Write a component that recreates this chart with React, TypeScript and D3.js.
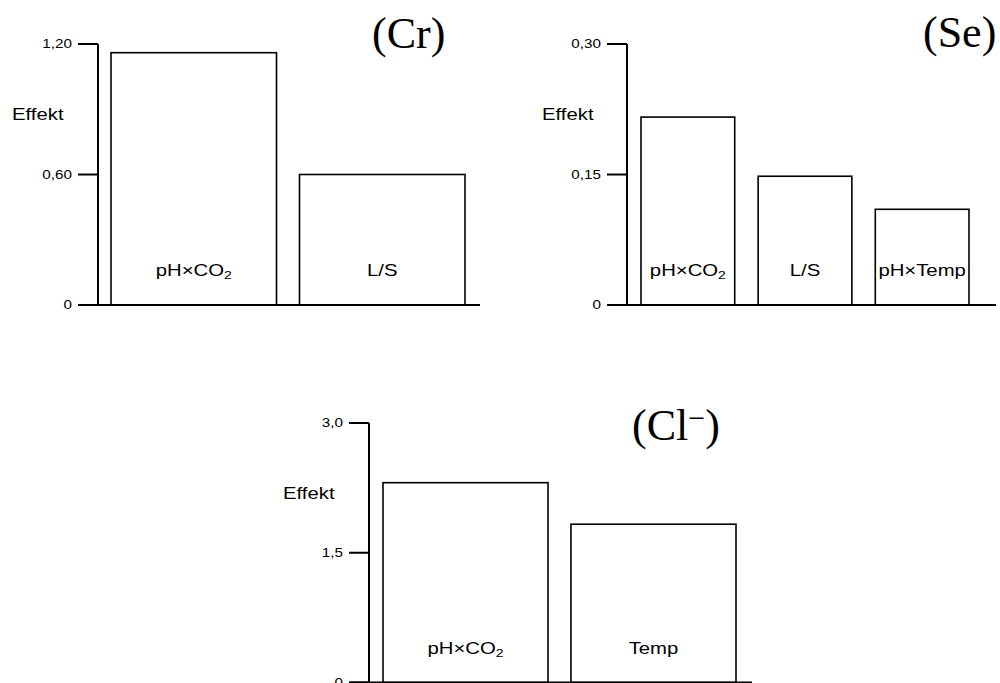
import * as d3 from 'd3';

// chart data
const crLabels = ['pH×CO2', 'L/S'];
const crValues = [1.16, 0.6];
const crTicks = [0, 0.6, 1.2];
const crTickLabels = ['0', '0,60', '1,20'];

const seLabels = ['pH×CO2', 'L/S', 'pH×Temp'];
const seValues = [0.216, 0.148, 0.11];
const seTicks = [0, 0.15, 0.3];
const seTickLabels = ['0', '0,15', '0,30'];

const clLabels = ['pH×CO2', 'Temp'];
const clValues = [2.31, 1.83];
const clTicks = [0, 1.5, 3.0];
const clTickLabels = ['0', '1,5', '3,0'];

const W = 1000;
const H = 683;
const SANS = '"Liberation Sans", Arial, sans-serif';
const SERIF = '"Liberation Serif", "Times New Roman", serif';
const STRETCH = 1.27; // the source text is a bit wide

const BarLabel = ({ x, y, text }) => {
  // render CO2 with a real subscript
  const m = text.match(/^(.*CO)2$/);
  return (
    <text transform={`translate(${x},${y}) scale(${STRETCH},1)`} textAnchor="middle"
      fontFamily={SANS} fontSize={16}>
      {m ? (
        <>
          {m[1]}
          <tspan fontSize={11} dy={3}>2</tspan>
        </>
      ) : text}
    </text>
  );
};

const Panel = ({ labels, values, ticks, tickLabels, axisX, yTop, yZero, barX0, barX1, pad, lineEnd, effektX, effektY }) => {
  const max = ticks[ticks.length - 1];
  const y = d3.scaleLinear().domain([0, max]).range([yZero, yTop]);
  const x = d3.scaleBand().domain(labels).range([barX0, barX1]).paddingInner(pad);

  return (
    <g>
      {labels.map((l, i) => (
        <g key={l}>
          <rect x={x(l)} y={y(values[i])} width={x.bandwidth()} height={yZero - y(values[i])}
            fill="#fff" stroke="#000" strokeWidth={1.6} />
          <BarLabel x={x(l) + x.bandwidth() / 2} y={yZero - 29} text={l} />
        </g>
      ))}
      <line x1={axisX} x2={axisX} y1={yTop} y2={yZero} stroke="#000" strokeWidth={2} />
      <line x1={axisX - 20} x2={lineEnd} y1={yZero} y2={yZero} stroke="#000" strokeWidth={2} />
      {ticks.map((t, i) => (
        <g key={t}>
          <line x1={axisX - 20} x2={axisX} y1={y(t)} y2={y(t)} stroke="#000" strokeWidth={2} />
          <text transform={`translate(${axisX - 26},${y(t) + 4}) scale(${STRETCH},1)`}
            textAnchor="end" fontFamily={SANS} fontSize={12}>{tickLabels[i]}</text>
        </g>
      ))}
      <text transform={`translate(${effektX},${effektY}) scale(${STRETCH},1)`}
        fontFamily={SANS} fontSize={16}>Effekt</text>
    </g>
  );
};

export default function App() {
  return (
    <svg width={W} height={H} style={{ position: 'absolute', left: 0, top: 0, background: '#fff' }}>
      <Panel labels={crLabels} values={crValues} ticks={crTicks} tickLabels={crTickLabels}
        axisX={98} yTop={44} yZero={305} barX0={111} barX1={465} pad={0.122} lineEnd={480}
        effektX={12} effektY={120} />
      <Panel labels={seLabels} values={seValues} ticks={seTicks} tickLabels={seTickLabels}
        axisX={627} yTop={44} yZero={305} barX0={641} barX1={969} pad={0.2} lineEnd={996}
        effektX={542} effektY={120} />
      <Panel labels={clLabels} values={clValues} ticks={clTicks} tickLabels={clTickLabels}
        axisX={369} yTop={423} yZero={682.5} barX0={383} barX1={736} pad={0.122} lineEnd={752}
        effektX={283} effektY={499} />

      <text x={372} y={48} fontFamily={SERIF} fontSize={44}>(Cr)</text>
      <text x={923} y={47} fontFamily={SERIF} fontSize={44}>(Se)</text>
      <text x={632} y={440} fontFamily={SERIF} fontSize={44}>
        (Cl<tspan fontSize={30} dy={-12}>−</tspan><tspan dy={12}>)</tspan>
      </text>
    </svg>
  );
}
